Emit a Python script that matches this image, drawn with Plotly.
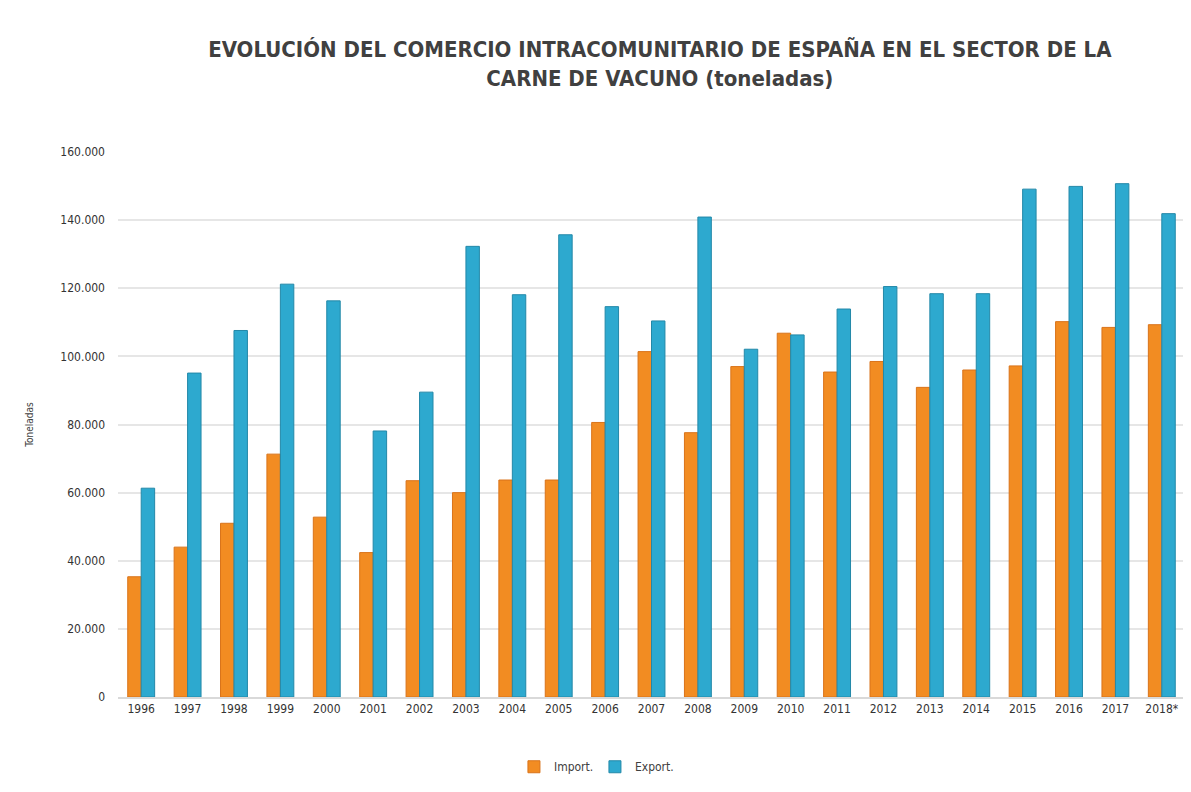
import plotly.graph_objects as go

# ── Datos ──────────────────────────────────────────────────────────────────
anios = ["1996", "1997", "1998", "1999", "2000", "2001", "2002", "2003",
         "2004", "2005", "2006", "2007", "2008", "2009", "2010", "2011",
         "2012", "2013", "2014", "2015", "2016", "2017", "2018*"]

importacion = [35300, 44000, 51000, 71300, 52800, 42400, 63500, 60000,
               63700, 63700, 80600, 101400, 77600, 97000, 106800, 95400,
               98500, 90900, 96000, 97200, 110200, 108500, 109300]

exportacion = [61300, 95100, 107600, 121200, 116300, 78100, 89500, 132300,
               118100, 135700, 114600, 110400, 140900, 102100, 106300, 113900,
               120500, 118400, 118400, 149100, 149900, 150700, 141900]

# ── Figura ─────────────────────────────────────────────────────────────────
fig = go.Figure()
fig.add_trace(go.Bar(
    x=anios, y=importacion, name="Import.",
    marker=dict(color="#F28C22", line=dict(color="#D9731A", width=1)),
))
fig.add_trace(go.Bar(
    x=anios, y=exportacion, name="Export.",
    marker=dict(color="#2DA9CF", line=dict(color="#2388A8", width=1)),
))

# la página tiene 8px de margen en body -> se compensa en width/height
fig.update_layout(
    width=1183, height=784,
    paper_bgcolor="white", plot_bgcolor="white",
    font=dict(family="Liberation Sans Narrow, DejaVu Sans Condensed, Liberation Sans",
              color="#404040"),
    title=dict(
        text="<b>EVOLUCIÓN DEL COMERCIO INTRACOMUNITARIO DE ESPAÑA EN EL SECTOR DE LA<br>"
             "CARNE DE VACUNO (toneladas)</b>",
        x=0.551, xanchor="center", y=0.937, yanchor="middle",
        font=dict(size=22, color="#404040"),
    ),
    margin=dict(l=110, r=6, t=144, b=95),
    barmode="group", bargap=0.42, bargroupgap=0,
    separators=",.",
    showlegend=True,
    legend=dict(orientation="h", x=0.447, xanchor="center", y=-0.128, yanchor="middle",
                font=dict(size=12, color="#404040"),
                entrywidth=36, entrywidthmode="pixels",
                itemwidth=30, traceorder="normal"),
    xaxis=dict(
        showgrid=False, showline=True, linecolor="#D9D9D9", linewidth=2,
        tickfont=dict(size=12, color="#333333"), ticks="",
    ),
    yaxis=dict(
        range=[0, 160000], tickvals=[0, 20000, 40000, 60000, 80000, 100000,
                                     120000, 140000, 160000],
        tickformat=",.0f", showgrid=True, gridcolor="#E6E6E6", gridwidth=2,
        zeroline=False, ticks="", ticklabelstandoff=12,
        tickfont=dict(size=12, color="#333333"),
        title=dict(text="Toneladas", font=dict(size=10, color="#404040"), standoff=24),
    ),
)

fig.write_html("out.html")
